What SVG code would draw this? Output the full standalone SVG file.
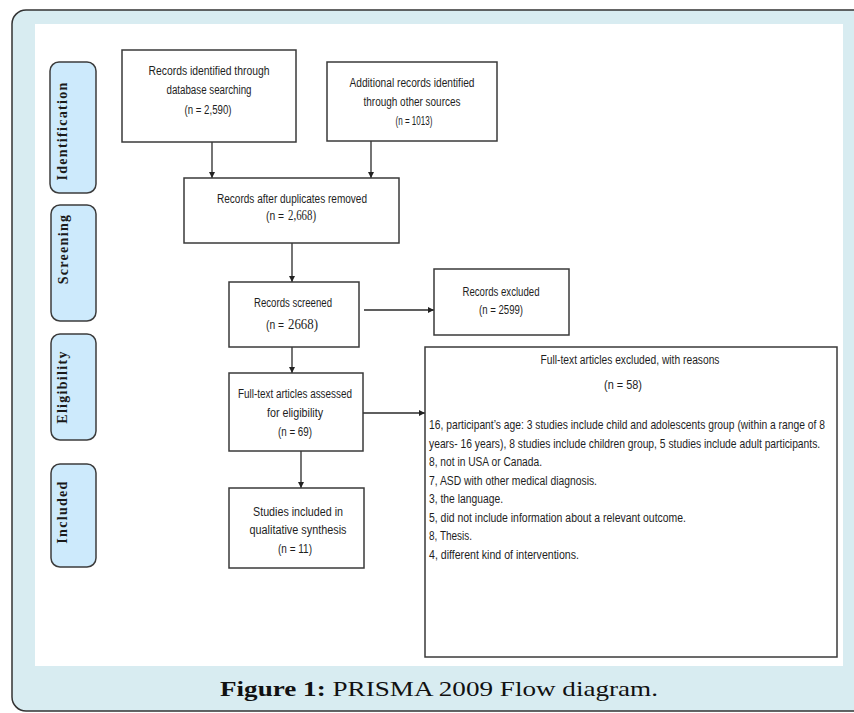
<svg xmlns="http://www.w3.org/2000/svg" width="854" height="713" viewBox="0 0 854 713">
<style>
.box{fill:#fff;stroke:#3a3a3a;stroke-width:1.5}
.side{fill:#cdeafc;stroke:#3c3c3c;stroke-width:1.5}
.sl{font-family:"Liberation Serif",serif;font-weight:bold;font-size:14px;letter-spacing:1.3px;fill:#1a1a1a;text-anchor:middle}
.t{font-family:"Liberation Sans",sans-serif;font-size:12px;fill:#1e1e1e;text-anchor:middle}
.tl{font-family:"Liberation Sans",sans-serif;font-size:12px;fill:#1e1e1e}
.num{font-family:"Liberation Serif",serif;font-size:14px;fill:#1e1e1e}
.c{stroke:#2a2a2a;stroke-width:1.3;fill:none;marker-end:url(#ah)}
.cap{font-family:"Liberation Serif",serif;font-size:21px;fill:#111}
</style>
<defs>
<marker id="ah" viewBox="0 0 6 6" refX="6" refY="3" markerWidth="6" markerHeight="6" markerUnits="userSpaceOnUse" orient="auto">
<path d="M0,0 L6,3 L0,6 z" fill="#222"/>
</marker>
</defs>
<rect x="12" y="10" width="870" height="701" rx="14" fill="#d8ecf1" stroke="#333" stroke-width="1.5"/>
<rect x="35" y="24" width="808" height="642" fill="#fff"/>

<g id="lbl-identification"><rect class="side" x="50" y="62" width="46" height="131" rx="9"/><text class="sl" transform="translate(67,131) rotate(-90)">Identification</text></g>
<g id="lbl-screening"><rect class="side" x="51" y="205" width="45" height="116" rx="9"/><text class="sl" transform="translate(68,249) rotate(-90)">Screening</text></g>
<g id="lbl-eligibility"><rect class="side" x="51" y="334" width="45" height="106" rx="9"/><text class="sl" transform="translate(67,387) rotate(-90)">Eligibility</text></g>
<g id="lbl-included"><rect class="side" x="51" y="464" width="45" height="103" rx="9"/><text class="sl" transform="translate(67,512) rotate(-90)">Included</text></g>

<g id="connectors">
<path class="c" d="M212,142 V178"/>
<path class="c" d="M371,141 V178"/>
<path class="c" d="M292,243 V282"/>
<path class="c" d="M364,310 H434"/>
<path class="c" d="M292,347 V373"/>
<path class="c" d="M363,413 H425"/>
<path class="c" d="M301,451 V488"/>
</g>

<g id="n1"><rect class="box" x="122" y="50" width="174" height="92"/>
<text class="t" x="209" y="75" textLength="121" lengthAdjust="spacingAndGlyphs">Records identified  through</text>
<text class="t" x="209" y="94" textLength="85" lengthAdjust="spacingAndGlyphs">database searching</text>
<text class="t" x="208" y="114" textLength="47" lengthAdjust="spacingAndGlyphs">(n = 2,590)</text></g>

<g id="n2"><rect class="box" x="327" y="62" width="170" height="79"/>
<text class="t" x="412" y="87" textLength="125" lengthAdjust="spacingAndGlyphs">Additional  records identified</text>
<text class="t" x="412" y="106" textLength="97" lengthAdjust="spacingAndGlyphs">through other sources</text>
<text class="t" x="414" y="125" textLength="37" lengthAdjust="spacingAndGlyphs">(n = 1013)</text></g>

<g id="n3"><rect class="box" x="184" y="178" width="215" height="65"/>
<text class="t" x="292" y="203" textLength="150" lengthAdjust="spacingAndGlyphs">Records after duplicates  removed</text>
<text class="tl" x="266" y="220" textLength="18" lengthAdjust="spacingAndGlyphs">(n =</text>
<text class="num" x="288" y="220" textLength="28" lengthAdjust="spacingAndGlyphs">2,668)</text></g>

<g id="n4"><rect class="box" x="229" y="282" width="130" height="65"/>
<text class="t" x="293" y="307" textLength="78" lengthAdjust="spacingAndGlyphs">Records screened</text>
<text class="tl" x="266" y="329" textLength="18" lengthAdjust="spacingAndGlyphs">(n =</text>
<text class="num" x="288" y="329" textLength="30" lengthAdjust="spacingAndGlyphs">2668)</text></g>

<g id="n5"><rect class="box" x="434" y="269" width="135" height="66"/>
<text class="t" x="501" y="296" textLength="77" lengthAdjust="spacingAndGlyphs">Records excluded</text>
<text class="t" x="501" y="314" textLength="44" lengthAdjust="spacingAndGlyphs">(n = 2599)</text></g>

<g id="n6"><rect class="box" x="229" y="373" width="134" height="78"/>
<text class="t" x="295" y="398" textLength="114" lengthAdjust="spacingAndGlyphs">Full-text articles assessed</text>
<text class="t" x="295" y="417" textLength="56" lengthAdjust="spacingAndGlyphs">for eligibility</text>
<text class="t" x="295" y="436" textLength="34" lengthAdjust="spacingAndGlyphs">(n = 69)</text></g>

<g id="n7"><rect class="box" x="229" y="488" width="135" height="80"/>
<text class="t" x="298" y="516" textLength="90" lengthAdjust="spacingAndGlyphs">Studies included  in</text>
<text class="t" x="298" y="534" textLength="97" lengthAdjust="spacingAndGlyphs">qualitative synthesis</text>
<text class="t" x="295" y="553" textLength="34" lengthAdjust="spacingAndGlyphs">(n = 11)</text></g>

<g id="n8"><rect class="box" x="425" y="347" width="412" height="310"/>
<text class="t" x="630" y="364" textLength="179" lengthAdjust="spacingAndGlyphs">Full-text articles excluded, with reasons</text>
<text class="t" x="623" y="389" textLength="38" lengthAdjust="spacingAndGlyphs">(n = 58)</text>
<text class="tl" transform="translate(429,429) scale(0.8,1)" x="0" y="0" textLength="495" lengthAdjust="spacingAndGlyphs">16, participant’s age: 3 studies include  child  and adolescents  group (within  a range of 8</text>
<text class="tl" transform="translate(429,448) scale(0.8,1)" x="0" y="0" textLength="489" lengthAdjust="spacingAndGlyphs">years- 16 years), 8 studies include  children  group, 5 studies include  adult  participants.</text>
<text class="tl" x="429" y="466" textLength="113" lengthAdjust="spacingAndGlyphs">8, not in USA or Canada.</text>
<text class="tl" x="429" y="485" textLength="168" lengthAdjust="spacingAndGlyphs">7, ASD with other medical  diagnosis.</text>
<text class="tl" x="429" y="503" textLength="74" lengthAdjust="spacingAndGlyphs">3, the language.</text>
<text class="tl" x="429" y="522" textLength="257" lengthAdjust="spacingAndGlyphs">5, did not include  information  about a relevant outcome.</text>
<text class="tl" x="429" y="540" textLength="43" lengthAdjust="spacingAndGlyphs">8, Thesis.</text>
<text class="tl" x="429" y="559" textLength="150" lengthAdjust="spacingAndGlyphs">4, different  kind of interventions.</text></g>

<text class="cap" x="220" y="696" textLength="438" lengthAdjust="spacingAndGlyphs"><tspan font-weight="bold">Figure 1:</tspan> PRISMA 2009 Flow diagram.</text>
</svg>
